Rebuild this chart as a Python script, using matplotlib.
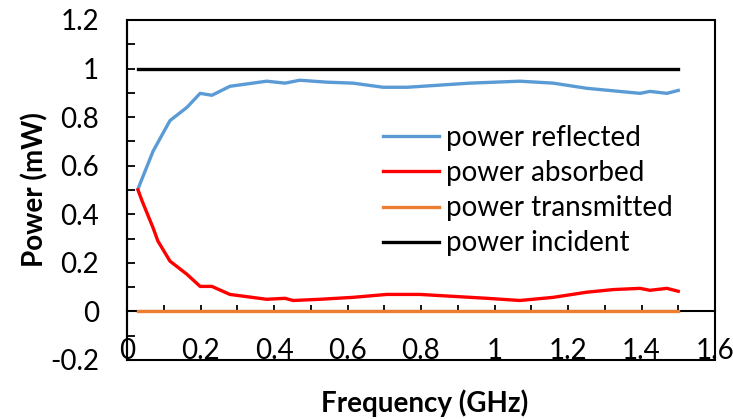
import matplotlib
matplotlib.use("Agg")
import matplotlib.pyplot as plt
from matplotlib.patches import Rectangle
from matplotlib.ticker import MultipleLocator

plt.rcParams['font.family'] = ['Lato', 'DejaVu Sans']

freq_refl = [0.03, 0.071, 0.117, 0.163, 0.199, 0.231, 0.28, 0.38, 0.43, 0.47, 0.544, 0.615,
             0.697, 0.762, 0.843, 0.933, 1.069, 1.16, 1.25, 1.34, 1.396, 1.423, 1.469, 1.5]
power_reflected = [0.505, 0.66, 0.786, 0.84, 0.898, 0.89, 0.927, 0.948, 0.94, 0.952, 0.944, 0.94,
                   0.923, 0.923, 0.931, 0.94, 0.948, 0.94, 0.919, 0.906, 0.898, 0.906, 0.898, 0.91]

freq_abs = [0.03, 0.041, 0.071, 0.084, 0.117, 0.163, 0.199, 0.231, 0.28, 0.38, 0.43, 0.452,
            0.525, 0.615, 0.707, 0.797, 0.888, 0.98, 1.069, 1.16, 1.25, 1.323, 1.396, 1.423,
            1.469, 1.5]
power_absorbed = [0.5, 0.455, 0.344, 0.29, 0.207, 0.153, 0.103, 0.103, 0.07, 0.05, 0.054, 0.045,
                  0.05, 0.058, 0.07, 0.07, 0.062, 0.054, 0.045, 0.058, 0.079, 0.09, 0.095, 0.087,
                  0.095, 0.083]

freq_flat = [0.03, 1.5]
power_transmitted = [0.0, 0.0]
power_incident = [1.0, 1.0]

labels = ['power reflected', 'power absorbed', 'power transmitted', 'power incident']
colors = ['#5B9BD5', '#FF0000', '#ED7D31', '#000000']

FS = 20

fig = plt.figure(figsize=(7.33, 4.19), dpi=100)
ax = fig.add_axes([127/733, 1-360/419, (715-127)/733, (360-20)/419])

lw = 2.4
ax.plot(freq_refl, power_reflected, color=colors[0], lw=lw, label=labels[0], zorder=3)
ax.plot(freq_abs, power_absorbed, color=colors[1], lw=lw, label=labels[1], zorder=3)
ax.plot(freq_flat, power_transmitted, color=colors[2], lw=lw, label=labels[2], zorder=3)
ax.plot(freq_flat, power_incident, color=colors[3], lw=lw, label=labels[3], zorder=3)

ax.set_xlim(0, 1.6)
ax.set_ylim(-0.2, 1.2)

ax.xaxis.set_minor_locator(MultipleLocator(0.1))
ax.yaxis.set_minor_locator(MultipleLocator(0.1))
ax.set_xticks([0, 0.2, 0.4, 0.6, 0.8, 1.0, 1.2, 1.4, 1.6])
ax.set_xticklabels(['0', '0.2', '0.4', '0.6', '0.8', '1', '1.2', '1.4', '1.6'])
ax.set_yticks([-0.2, 0, 0.2, 0.4, 0.6, 0.8, 1.0, 1.2])
ax.set_yticklabels(['-0.2', '0', '0.2', '0.4', '0.6', '0.8', '1', '1.2'])

ax.spines['bottom'].set_position(('data', 0))
for s in ['top', 'right']:
    ax.spines[s].set_visible(False)
for s in ['left', 'bottom']:
    ax.spines[s].set_linewidth(1.5)
    ax.spines[s].set_color('black')

ax.add_patch(Rectangle((0, 0), 1, 1, transform=ax.transAxes, fill=False,
                       edgecolor='black', lw=1.5, clip_on=False, zorder=5))

ax.tick_params(axis='y', which='both', direction='in', length=6, width=1.3,
               labelsize=FS, pad=20)
ax.tick_params(axis='x', which='both', direction='in', length=4.5, width=1.3,
               labelsize=FS, pad=19)

ax.set_ylabel('Power (mW)', fontsize=FS, fontweight='bold')
ax.yaxis.set_label_coords(35/733, 1-190/419, transform=fig.transFigure)
ax.set_xlabel('Frequency (GHz)', fontsize=FS, fontweight='bold')
ax.xaxis.set_label_coords(425/733, 1-403/419, transform=fig.transFigure)
ax.xaxis.label.set_verticalalignment('center')
ax.yaxis.label.set_verticalalignment('center')

leg = ax.legend(loc='upper left', bbox_to_anchor=(383/733, 1-125/419),
                bbox_transform=fig.transFigure, frameon=False, fontsize=FS,
                handlelength=2.0, handletextpad=0.25, labelspacing=0.33,
                borderpad=0, borderaxespad=0)

fig.savefig('out.png', dpi=100)
